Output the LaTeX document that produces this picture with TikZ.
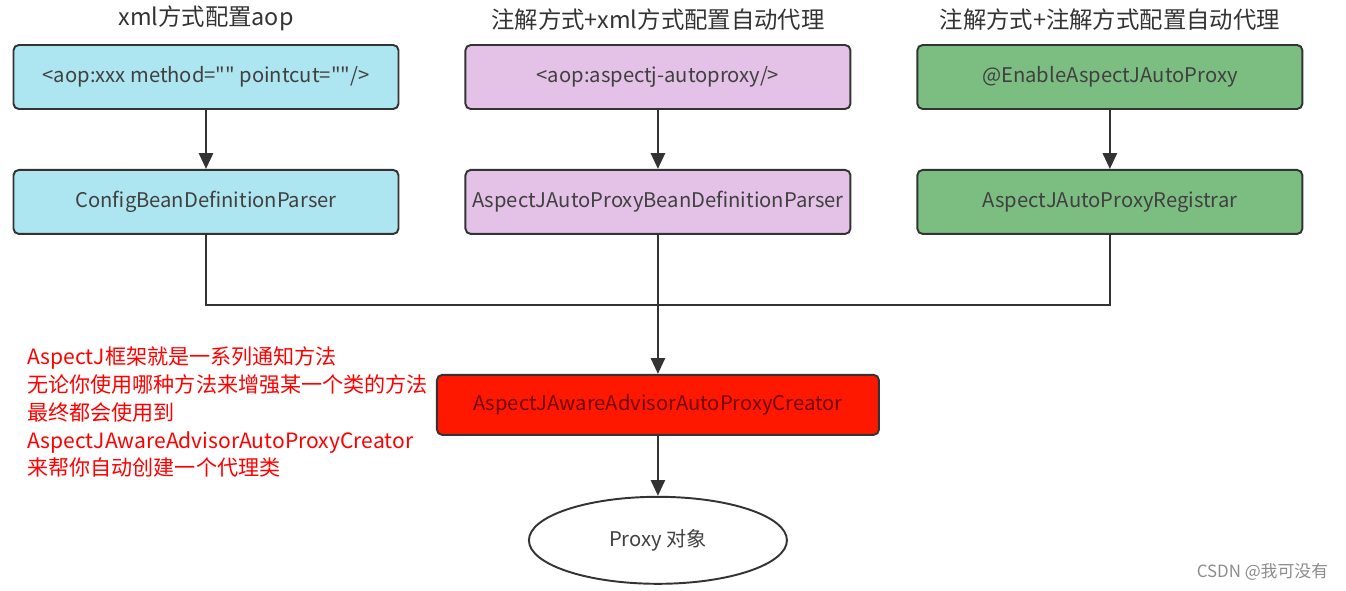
\documentclass[tikz,border=0pt]{standalone}
\usepackage{fontspec}
\setmainfont{Noto Sans CJK SC}
\newfontfamily\plainfont{Noto Sans CJK SC}
\usepackage{tikz}
\usetikzlibrary{arrows.meta,positioning,shapes.geometric}

\definecolor{cyanbox}{RGB}{173,230,240}
\definecolor{purplebox}{RGB}{228,193,230}
\definecolor{greenbox}{RGB}{124,190,130}
\definecolor{redbox}{RGB}{255,24,0}
\definecolor{edgegray}{RGB}{51,51,51}

\begin{document}
\begin{tikzpicture}[
	box/.style={draw=edgegray,line width=1.1pt,rounded corners=3pt,minimum width=7.7cm,minimum height=1.28cm,inner sep=0pt,font=\fontsize{11.5}{13}\selectfont,text=black!75},
	title/.style={font=\fontsize{13.3}{15}\selectfont,text=black!80,inner sep=0pt},
	link/.style={draw=edgegray,line width=1.4pt},
	arrow/.style={link,-{Triangle[length=9pt,width=8pt]}}
]
	\useasboundingbox (0,0) rectangle (26.92,-11.8);
	% three ways to configure
	\node[box,fill=cyanbox] (1) at (4.12,-1.54)
	{\plainfont <aop:xxx method="" pointcut=""/>};
	\node[box,fill=purplebox] (2) [right=1.3cm of 1]
	{<aop:aspectj-autoproxy/>};
	\node[box,fill=greenbox] (3) [right=1.3cm of 2]
	{@EnableAspectJAutoProxy};
	\node[box,fill=cyanbox] (4) [below=1.18cm of 1]
	{ConfigBeanDefinitionParser};
	\node[box,fill=purplebox] (5) [below=1.18cm of 2]
	{AspectJAutoProxyBeanDefinitionParser};
	\node[box,fill=greenbox] (6) [below=1.18cm of 3]
	{AspectJAutoProxyRegistrar};
	\node[title] (t1) [above=0.26cm of 1] {xml方式配置aop};
	\node[title] (t2) [above=0.26cm of 2] {注解方式+xml方式配置自动代理};
	\node[title] (t3) [above=0.26cm of 3] {注解方式+注解方式配置自动代理};
	% creator and proxy
	\node[box,fill=redbox,minimum width=8.84cm,minimum height=1.2cm,text=red!45!black] (7) [below=2.78cm of 5]
	{AspectJAwareAdvisorAutoProxyCreator};
	\node[draw=edgegray,line width=1.1pt,ellipse,minimum width=5.16cm,minimum height=1.74cm,inner sep=0pt,font=\fontsize{11.5}{13}\selectfont,text=black!75] (8) [below=1.2cm of 7]
	{Proxy 对象};
	\node[anchor=north west,inner sep=0pt,align=left,text=red,font=\fontsize{12}{15.9}\selectfont] (9) at (0.54,-6.92)
	{AspectJ框架就是一系列通知方法\\无论你使用哪种方法来增强某一个类的方法\\最终都会使用到\\AspectJAwareAdvisorAutoProxyCreator\\来帮你自动创建一个代理类};
	\node[text=black!45,inner sep=0pt,font=\fontsize{9.6}{11}\selectfont] (10) at (25.25,-11.44) {CSDN @我可没有};
	\draw[arrow] (1) -- (4);
	\draw[arrow] (2) -- (5);
	\draw[arrow] (3) -- (6);
	\draw[link] (4.south) -- ++(0,-1.4) -| (6.south);
	\draw[arrow] (5) -- (7);
	\draw[arrow] (7) -- (8);
\end{tikzpicture}
\end{document}
